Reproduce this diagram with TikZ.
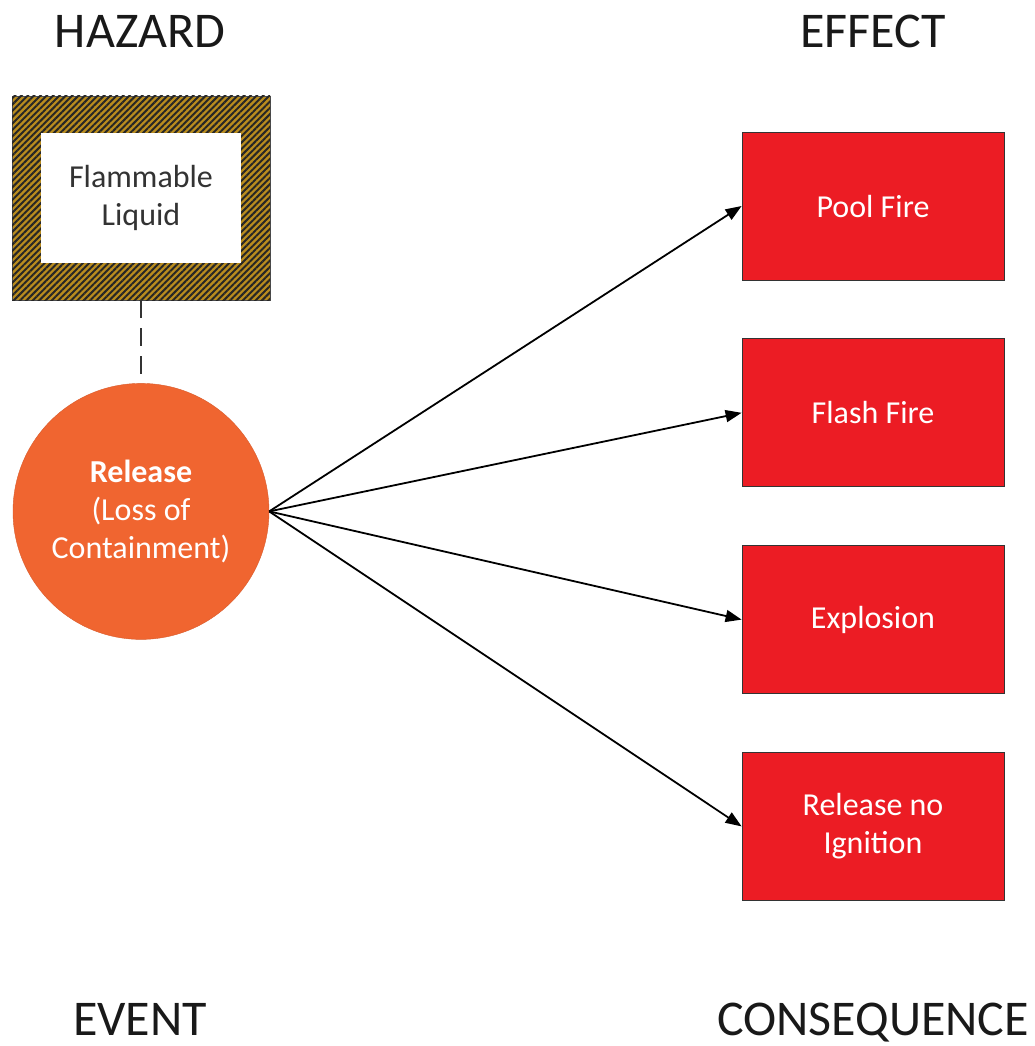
\documentclass[tikz,border=0pt]{standalone}
\usepackage{fontspec}
\setmainfont{Carlito}
\usepackage{tikz}
\definecolor{HazGold}{RGB}{185,140,30}
\definecolor{EventOrange}{RGB}{240,101,48}
\definecolor{EffectRed}{RGB}{236,28,36}
\usetikzlibrary{positioning, shapes, arrows.meta, patterns.meta}

\begin{document}
\begin{tikzpicture}[x=1pt, y=-1pt, node distance=58pt,
  every node/.style={font=\fontsize{32}{38}\selectfont},
  lbl/.style={font=\fontsize{50}{56}\selectfont, text=black!90, anchor=base, inner sep=0pt},
  hazbox/.style={rectangle, draw=black!70, fill=HazGold, minimum width=258pt, minimum height=204pt,
    postaction={pattern={Lines[angle=45, distance=4.5pt, line width=2pt]}, pattern color=black!85}},
  inbox/.style={rectangle, fill=white, minimum width=200pt, minimum height=129pt, align=center, text=black!80},
  event/.style={circle, draw=EventOrange!90!black, fill=EventOrange, minimum size=256pt, inner sep=0pt, align=center, text=white},
  effbox/.style={rectangle, draw=black!80, thick, fill=EffectRed, minimum width=262pt, minimum height=148pt, align=center, text=white},
  arrow/.style={-{Triangle[length=16pt, width=12pt]}, line width=1.8pt, black},
  link/.style={line width=2.8pt, black!80, dash pattern=on 18pt off 10pt}
]
\useasboundingbox (0,0) rectangle (1035,1046);

% Headings
\node[lbl] (hazlbl) at (140,48) {HAZARD};
\node[lbl] (efflbl) at (873,48) {EFFECT};
\node[lbl] (evlbl) at (140,1035) {EVENT};
\node[lbl] (conlbl) at (873,1035) {CONSEQUENCE};

% Hazard and event
\node[hazbox] (hazard) at (141,198) {};
\node[inbox] (liquid) at (hazard.center) {Flammable\\Liquid};
\node[event, below=83pt of hazard] (release) {\textbf{Release}\\(Loss of\\Containment)};

% Consequences
\node[effbox] (pool) at (873,206) {Pool Fire};
\node[effbox, below=of pool] (flash) {Flash Fire};
\node[effbox, below=of flash] (expl) {Explosion};
\node[effbox, below=of expl] (noign) {Release no\\Ignition};

% Connectors
\draw[link] (hazard) -- (release);
\draw[arrow] (release.east) -- (pool.west);
\draw[arrow] (release.east) -- (flash.west);
\draw[arrow] (release.east) -- (expl.west);
\draw[arrow] (release.east) -- (noign.west);

\end{tikzpicture}
\end{document}
